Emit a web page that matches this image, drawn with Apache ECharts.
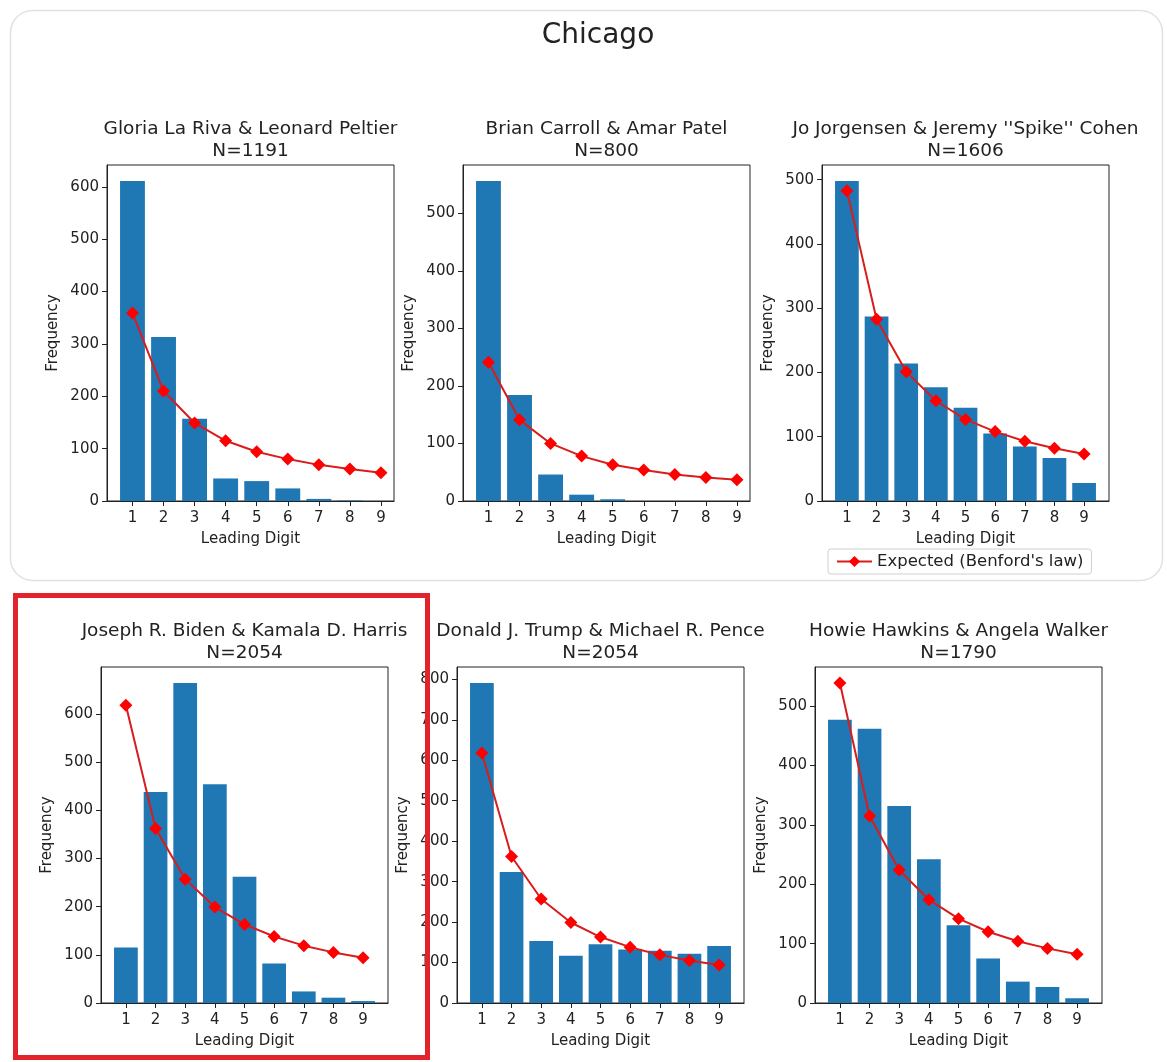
<!DOCTYPE html>
<html>
<head>
<meta charset="utf-8">
<script src="https://cdn.jsdelivr.net/npm/echarts@6/dist/echarts.min.js"></script>
<style>
  html, body { margin: 0; padding: 0; background: #fff; }
  #chart { width: 1167px; height: 1062px; }
</style>
</head>
<body>
<div id="chart"></div>
<script>
// leading digits on the x axis
const digits = [1, 2, 3, 4, 5, 6, 7, 8, 9];

// observed counts per leading digit (only digits that showed up get a bar)
const laRivaObserved = [611, 313, 157, 43, 38, 24, 4, 1];
const carrollObserved = [556, 184, 46, 11, 3];
const jorgensenObserved = [498, 287, 214, 177, 145, 105, 85, 67, 28];
const bidenObserved = [115, 438, 664, 454, 262, 82, 24, 11, 4];
const trumpObserved = [791, 324, 153, 117, 145, 132, 129, 122, 141];
const hawkinsObserved = [477, 462, 332, 242, 131, 75, 36, 27, 8];

// expected counts (Benford's law)
const laRivaExpected = [359, 210, 149, 115, 94, 80, 69, 61, 54];
const carrollExpected = [241, 141, 100, 78, 63, 54, 46, 41, 37];
const jorgensenExpected = [483, 283, 201, 156, 127, 108, 93, 82, 73];
const bidenExpected = [618, 362, 257, 199, 163, 138, 119, 105, 94];
const trumpExpected = [618, 362, 257, 199, 163, 138, 119, 105, 94];
const hawkinsExpected = [539, 315, 224, 174, 142, 120, 104, 92, 82];

// y tick labels
const ticksTo500 = [0, 100, 200, 300, 400, 500];
const ticksTo600 = [0, 100, 200, 300, 400, 500, 600];
const ticksTo800 = [0, 100, 200, 300, 400, 500, 600, 700, 800];

const panelTitles = [
  'Gloria La Riva & Leonard Peltier',
  'Brian Carroll & Amar Patel',
  "Jo Jorgensen & Jeremy ''Spike'' Cohen",
  'Joseph R. Biden & Kamala D. Harris',
  'Donald J. Trump & Michael R. Pence',
  'Howie Hawkins & Angela Walker'
];
const panelN = [1191, 800, 1606, 2054, 2054, 1790];
const expectedName = "Expected (Benford's law)";

const panels = [
  { observed: laRivaObserved, expected: laRivaExpected, yTicks: ticksTo600 },
  { observed: carrollObserved, expected: carrollExpected, yTicks: ticksTo500 },
  { observed: jorgensenObserved, expected: jorgensenExpected, yTicks: ticksTo500 },
  { observed: bidenObserved, expected: bidenExpected, yTicks: ticksTo600 },
  { observed: trumpObserved, expected: trumpExpected, yTicks: ticksTo800 },
  { observed: hawkinsObserved, expected: hawkinsExpected, yTicks: ticksTo500 }
];

// plot frames in pixels
const boxes = [
  { left: 107, top: 165, titleTop: 118 },
  { left: 463, top: 165, titleTop: 118 },
  { left: 822, top: 165, titleTop: 118 },
  { left: 101, top: 667, titleTop: 620 },
  { left: 457, top: 667, titleTop: 620 },
  { left: 815, top: 667, titleTop: 620 }
];
const boxW = 287;
const boxH = 336;

const font = "'DejaVu Sans', sans-serif";
const ink = '#222';

const grids = [], xAxes = [], yAxes = [], series = [], graphics = [];

panels.forEach((p, i) => {
  const b = boxes[i];
  grids.push({
    left: b.left, top: b.top, width: boxW, height: boxH,
    show: true, borderColor: ink, borderWidth: 1, containLabel: false
  });

  // matplotlib-like autoscale: bars span 0.6..n+0.4, line spans 1..9, 5% margin
  const lo = 0.6;
  const hi = Math.max(p.observed.length + 0.4, 9);
  const pad = 0.05 * (hi - lo);
  const yMax = 1.05 * Math.max(...p.observed, ...p.expected);

  xAxes.push({
    type: 'value', gridIndex: i, min: lo - pad, max: hi + pad, z: 5,
    axisLine: { show: true, onZero: false, lineStyle: { color: ink, width: 1 } },
    axisTick: { show: true, customValues: digits, length: 5, lineStyle: { color: ink } },
    axisLabel: { customValues: digits, margin: 10, fontSize: 15, color: ink, fontFamily: font },
    splitLine: { show: false },
    name: 'Leading Digit', nameLocation: 'middle', nameGap: 31,
    nameTextStyle: { fontSize: 15, color: ink, fontFamily: font }
  });
  yAxes.push({
    type: 'value', gridIndex: i, min: 0, max: yMax, z: 5,
    axisLine: { show: true, lineStyle: { color: ink, width: 1 } },
    axisTick: { show: true, customValues: p.yTicks, length: 5, lineStyle: { color: ink } },
    axisLabel: { customValues: p.yTicks, margin: 8, fontSize: 15, color: ink, fontFamily: font },
    splitLine: { show: false },
    name: 'Frequency', nameLocation: 'middle', nameGap: 46,
    nameTextStyle: { fontSize: 15, color: ink, fontFamily: font }
  });

  series.push({
    type: 'bar', name: 'Observed', xAxisIndex: i, yAxisIndex: i,
    data: p.observed.map((v, k) => [digits[k], v]),
    barWidth: '80%',
    itemStyle: { color: '#1f77b4' },
    silent: true
  });
  series.push({
    type: 'line', name: expectedName, xAxisIndex: i, yAxisIndex: i,
    data: p.expected.map((v, k) => [digits[k], v]),
    symbol: 'diamond', symbolSize: 13,
    itemStyle: { color: '#ff0000' },
    lineStyle: { color: '#d91c1c', width: 2 },
    z: 4, silent: true
  });

  graphics.push({
    type: 'text', z: 50,
    style: {
      x: b.left + boxW / 2, y: b.titleTop,
      text: panelTitles[i] + '\nN=' + panelN[i],
      font: '18.5px ' + font, lineHeight: 22, fill: ink,
      align: 'center', verticalAlign: 'top',
      textAlign: 'center', textVerticalAlign: 'top'
    }
  });
});

// card outline around the top image, suptitle, red highlight box
graphics.push({
  type: 'rect', z: 0,
  shape: { x: 10.5, y: 10.5, width: 1152, height: 570, r: 22 },
  style: { fill: 'transparent', stroke: '#dde2e8', lineWidth: 1.5 }
});
graphics.push({
  type: 'text', z: 50,
  style: {
    x: 598, y: 36, text: 'Chicago', font: '28px ' + font, fill: ink,
    align: 'center', verticalAlign: 'middle',
    textAlign: 'center', textVerticalAlign: 'middle'
  }
});
graphics.push({
  type: 'rect', z: 100,
  shape: { x: 15.5, y: 595.5, width: 412, height: 462 },
  style: { fill: 'transparent', stroke: '#e3232c', lineWidth: 5 }
});

const chart = echarts.init(document.getElementById('chart'));
chart.setOption({
  animation: false,
  backgroundColor: '#fff',
  textStyle: { fontFamily: font },
  grid: grids,
  xAxis: xAxes,
  yAxis: yAxes,
  legend: {
    data: [expectedName],
    left: 828, top: 549,
    padding: [4, 8],
    itemWidth: 35, itemHeight: 14,
    borderColor: '#d0d0d0', borderWidth: 1, borderRadius: 3,
    selectedMode: false,
    textStyle: { fontSize: 16.5, color: ink, fontFamily: font }
  },
  series: series,
  graphic: { elements: graphics }
});
</script>
</body>
</html>
